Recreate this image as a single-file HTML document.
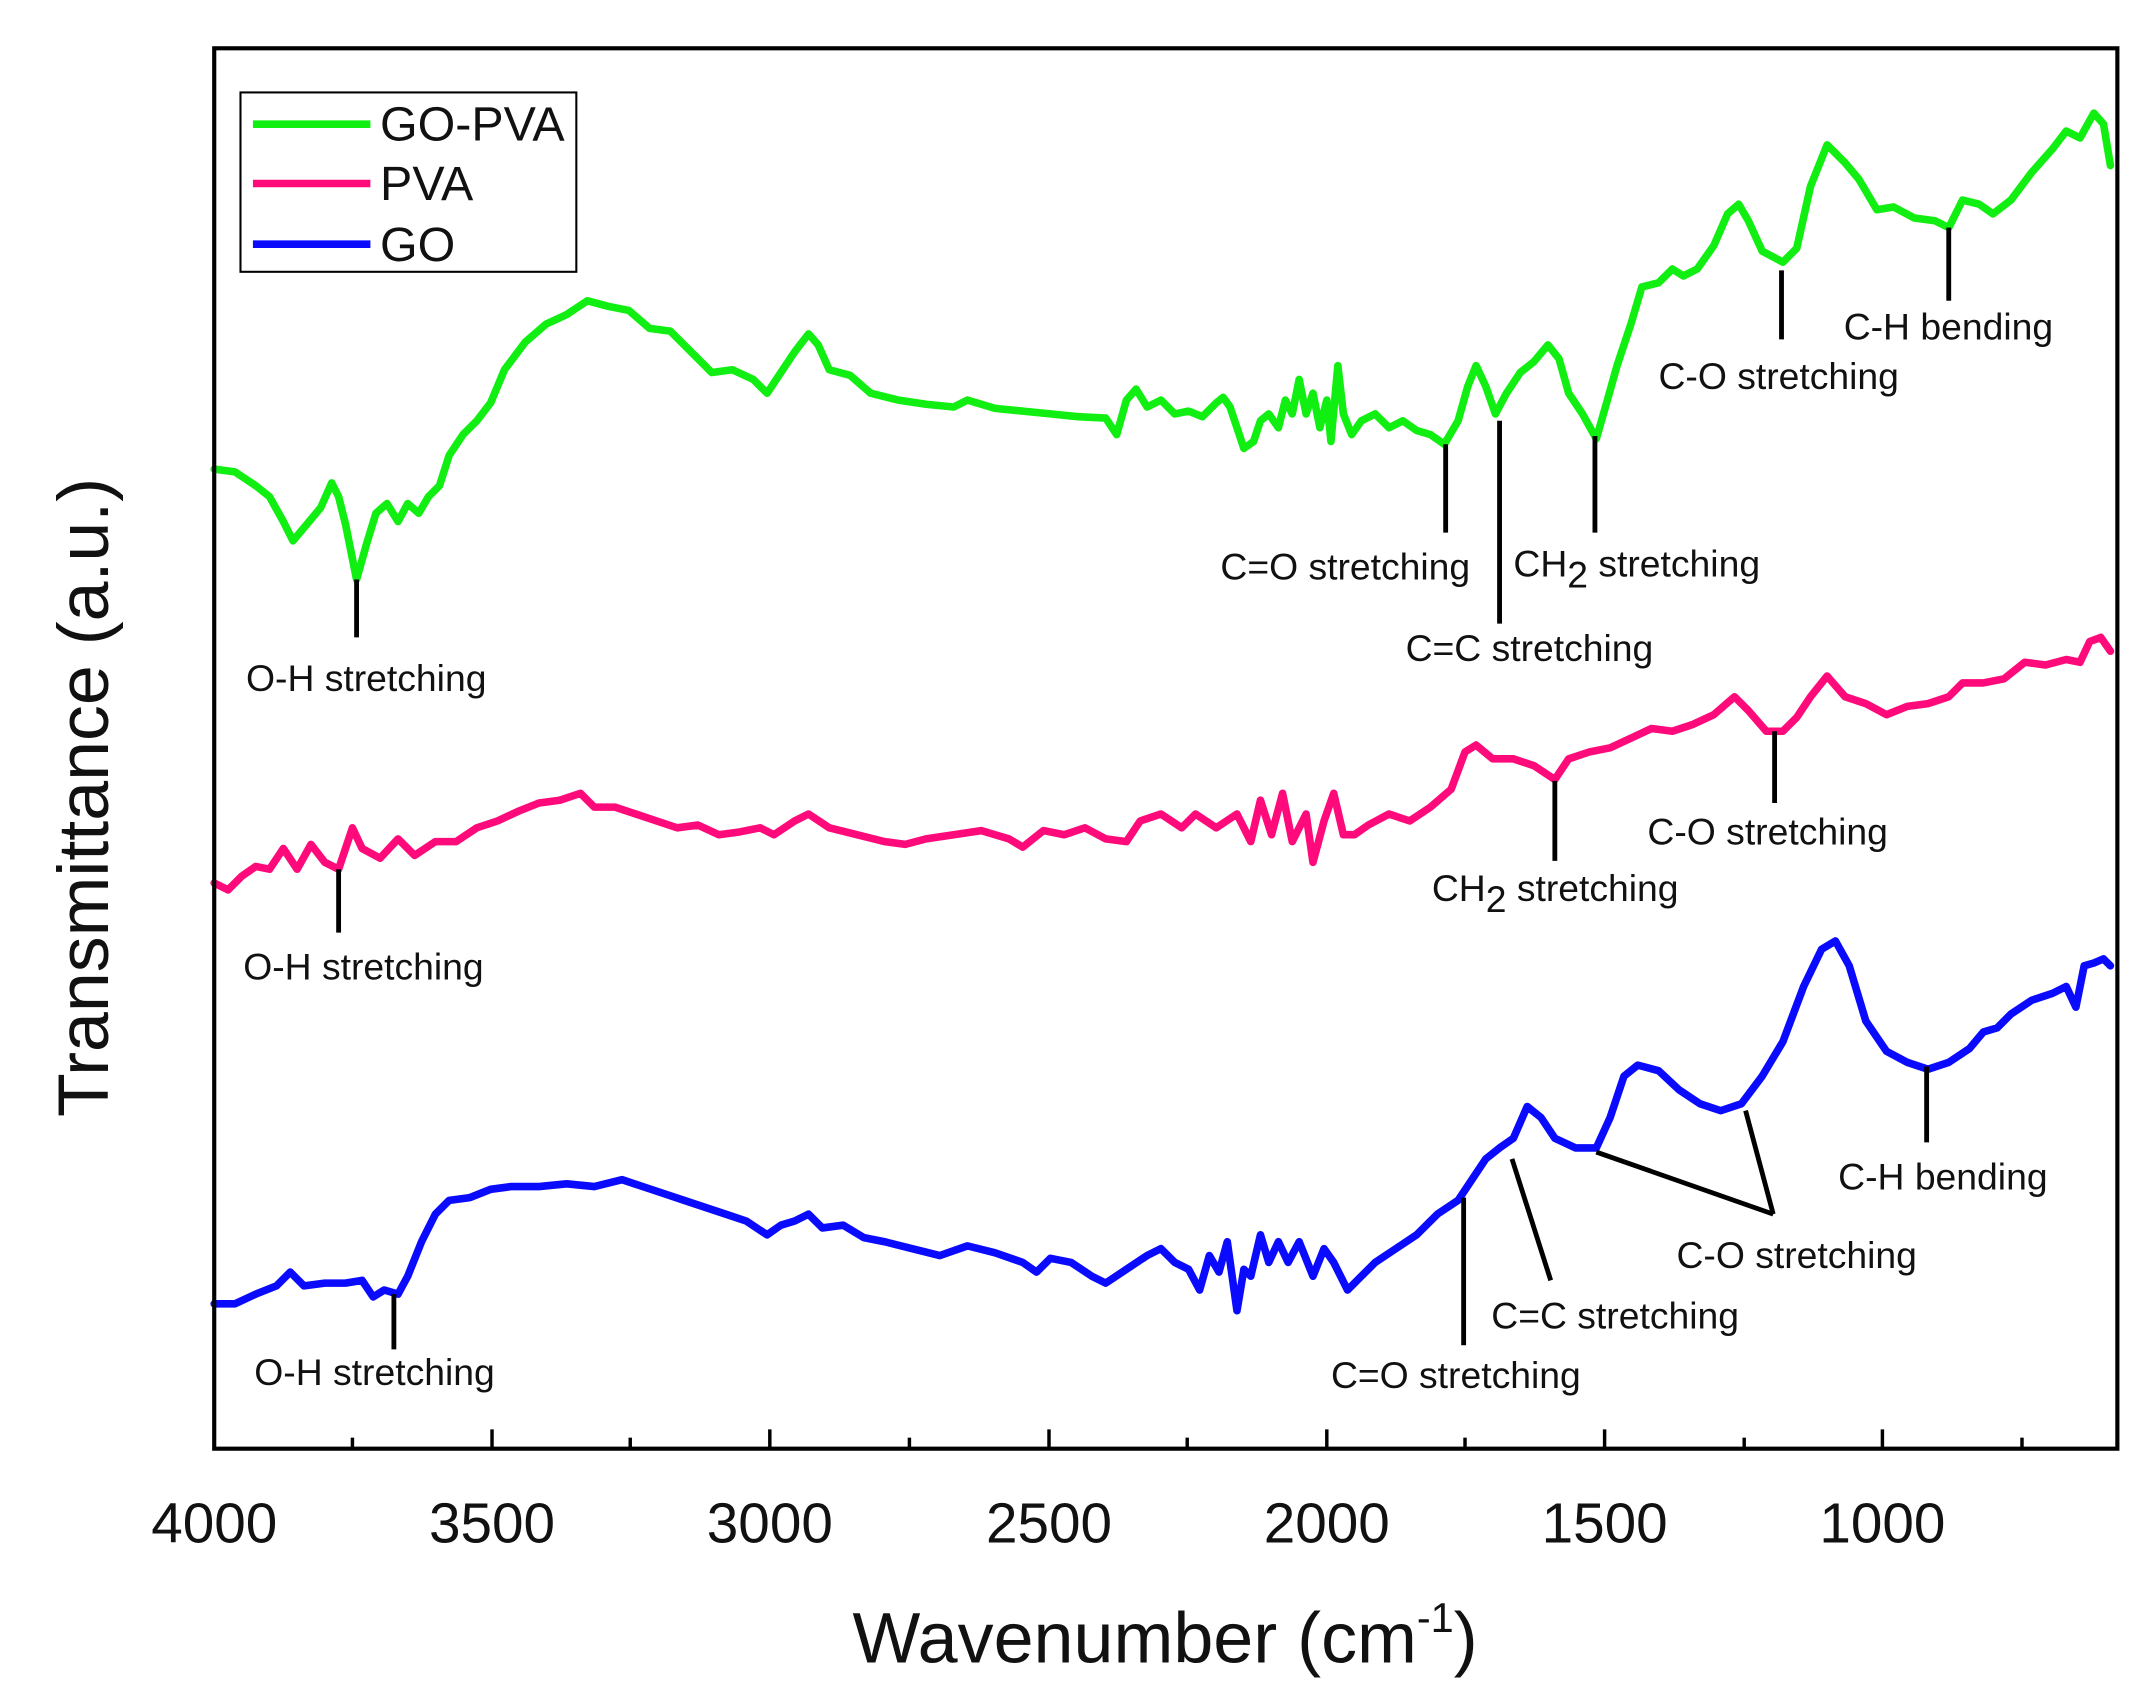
<!DOCTYPE html>
<html><head><meta charset="utf-8"><style>
html,body{margin:0;padding:0;background:#fff;}
svg{display:block;}
text{font-family:"Liberation Sans",Arial,sans-serif;fill:#111;}
.a{font-size:27px;}
</style></head><body>
<svg width="2145" height="1686" viewBox="0 0 1552 1222" preserveAspectRatio="none" xmlns="http://www.w3.org/2000/svg">
<rect x="0" y="0" width="1552" height="1222" fill="#fff"/>
<g fill="none" stroke-linejoin="round" stroke-linecap="round" stroke-width="5.5">
<polyline stroke="#11ee11" points="155,340 170,342 185,352 195,360 205,378 212,392 222,380 232,368 240,350 245,360 250,380 258,420 265,395 272,372 280,365 288,378 295,365 303,372 310,360 318,352 325,330 335,315 345,305 355,292 365,268 380,248 395,235 410,228 425,218 440,222 455,225 470,238 485,240 500,255 515,270 530,268 545,275 555,285 565,270 575,255 585,242 592,250 600,268 615,272 630,285 650,290 670,293 690,295 700,290 720,296 740,298 760,300 780,302 800,303 808,315 815,290 822,282 830,295 840,290 850,300 860,298 870,302 880,292 885,288 890,295 895,310 900,325 907,320 912,305 918,300 925,310 930,290 935,300 940,275 945,300 950,285 955,310 960,290 963,320 968,265 972,300 978,315 985,305 995,300 1005,310 1015,305 1025,312 1035,315 1045,322 1055,305 1062,280 1068,265 1075,280 1082,300 1090,285 1100,270 1110,262 1120,250 1128,260 1135,285 1145,300 1155,318 1163,290 1170,265 1180,235 1188,208 1200,205 1210,195 1218,200 1228,195 1240,178 1250,155 1258,148 1265,160 1275,182 1290,190 1300,180 1310,135 1322,105 1335,118 1345,130 1358,152 1370,150 1385,158 1400,160 1410,165 1420,145 1432,148 1442,155 1455,145 1470,125 1485,108 1495,95 1505,100 1515,82 1522,90 1527,120"/>
<polyline stroke="#ff0a7a" points="155,640 165,645 175,635 185,628 195,630 205,615 215,630 225,612 235,625 245,630 255,600 262,615 275,622 288,608 300,620 315,610 330,610 345,600 360,595 375,588 390,582 405,580 420,575 430,585 445,585 460,590 475,595 490,600 505,598 520,605 535,603 550,600 560,605 575,595 585,590 600,600 620,605 640,610 655,612 670,608 690,605 710,602 730,608 740,614 755,602 770,605 785,600 800,608 815,610 825,595 840,590 855,600 865,590 880,600 895,590 905,610 912,580 920,605 928,575 935,610 945,590 950,625 958,595 965,575 972,605 980,605 990,598 1005,590 1020,595 1035,585 1050,572 1060,545 1068,540 1080,550 1095,550 1110,555 1125,565 1135,550 1150,545 1165,542 1180,535 1195,528 1210,530 1225,525 1240,518 1255,505 1265,515 1278,530 1290,530 1300,520 1310,505 1322,490 1335,505 1350,510 1365,518 1380,512 1395,510 1410,505 1420,495 1435,495 1450,492 1465,480 1480,482 1495,478 1505,480 1512,465 1520,462 1527,472"/>
<polyline stroke="#0a0aff" points="155,945 170,945 185,938 200,932 210,922 220,932 235,930 250,930 262,928 270,940 278,935 288,938 295,925 305,900 315,880 325,870 340,868 355,862 370,860 390,860 410,858 430,860 450,855 465,860 480,865 495,870 510,875 525,880 540,885 555,895 565,888 575,885 585,880 595,890 610,888 625,897 640,900 660,905 680,910 700,903 720,908 740,915 750,922 760,912 775,915 790,925 800,930 815,920 830,910 840,905 850,915 860,920 868,935 875,910 882,922 888,900 895,950 900,920 905,925 912,895 918,915 925,900 932,915 940,900 950,925 958,905 965,915 975,935 985,925 995,915 1010,905 1025,895 1040,880 1055,870 1065,855 1075,840 1085,832 1095,825 1105,802 1115,810 1125,825 1140,832 1155,832 1165,810 1175,780 1185,772 1200,776 1215,790 1230,800 1245,805 1260,800 1275,780 1290,755 1305,715 1318,688 1328,682 1338,700 1350,740 1365,762 1380,770 1395,775 1410,770 1425,760 1435,748 1445,745 1455,735 1470,725 1485,720 1495,715 1502,730 1508,700 1515,698 1522,695 1527,700"/>
</g>
<g stroke="#000" stroke-width="3.5">
<line x1="258" y1="420" x2="258" y2="462"/>
<line x1="1046" y1="322" x2="1046" y2="386"/>
<line x1="1154" y1="316" x2="1154" y2="386"/>
<line x1="1085" y1="305" x2="1085" y2="452"/>
<line x1="1289" y1="196" x2="1289" y2="246"/>
<line x1="1410" y1="165" x2="1410" y2="218"/>
<line x1="245" y1="630" x2="245" y2="676"/>
<line x1="1125" y1="566" x2="1125" y2="624"/>
<line x1="1284" y1="530" x2="1284" y2="582"/>
<line x1="285" y1="938" x2="285" y2="978"/>
<line x1="1059" y1="868" x2="1059" y2="975"/>
<line x1="1094" y1="840" x2="1122" y2="928"/>
<line x1="1155" y1="835" x2="1283" y2="880"/>
<line x1="1263" y1="805" x2="1283" y2="880"/>
<line x1="1394" y1="773" x2="1394" y2="828"/>
</g>
<g>
<text class="a" x="178" y="501">O-H stretching</text>
<text class="a" x="883" y="420">C=O stretching</text>
<text class="a" x="1095" y="418">CH<tspan dy="8">2</tspan><tspan dy="-8"> stretching</tspan></text>
<text class="a" x="1017" y="479">C=C stretching</text>
<text class="a" x="1200" y="282">C-O stretching</text>
<text class="a" x="1334" y="246">C-H bending</text>
<text class="a" x="176" y="710">O-H stretching</text>
<text class="a" x="1036" y="653">CH<tspan dy="8">2</tspan><tspan dy="-8"> stretching</tspan></text>
<text class="a" x="1192" y="612">C-O stretching</text>
<text class="a" x="184" y="1004">O-H stretching</text>
<text class="a" x="963" y="1006">C=O stretching</text>
<text class="a" x="1079" y="963">C=C stretching</text>
<text class="a" x="1213" y="919">C-O stretching</text>
<text class="a" x="1330" y="862">C-H bending</text>
</g>
<rect x="174" y="67" width="243" height="130" fill="none" stroke="#000" stroke-width="1.5"/>
<g stroke-width="5.5">
<line x1="183" y1="90" x2="268" y2="90" stroke="#11ee11"/>
<line x1="183" y1="133" x2="268" y2="133" stroke="#ff0a7a"/>
<line x1="183" y1="177" x2="268" y2="177" stroke="#0a0aff"/>
</g>
<text x="275" y="102" font-size="35">GO-PVA</text>
<text x="275" y="145" font-size="35">PVA</text>
<text x="275" y="189" font-size="35">GO</text>
<rect x="155" y="35" width="1377" height="1015" fill="none" stroke="#000" stroke-width="3"/>
<g stroke="#000" stroke-width="2.5">
<line x1="356" y1="1050" x2="356" y2="1036"/><line x1="557" y1="1050" x2="557" y2="1036"/>
<line x1="759" y1="1050" x2="759" y2="1036"/><line x1="960" y1="1050" x2="960" y2="1036"/>
<line x1="1161" y1="1050" x2="1161" y2="1036"/><line x1="1362" y1="1050" x2="1362" y2="1036"/>
<line x1="255" y1="1050" x2="255" y2="1042"/><line x1="456" y1="1050" x2="456" y2="1042"/>
<line x1="658" y1="1050" x2="658" y2="1042"/><line x1="859" y1="1050" x2="859" y2="1042"/>
<line x1="1060" y1="1050" x2="1060" y2="1042"/><line x1="1262" y1="1050" x2="1262" y2="1042"/>
<line x1="1463" y1="1050" x2="1463" y2="1042"/>
</g>
<g font-size="41" text-anchor="middle">
<text x="155" y="1118">4000</text><text x="356" y="1118">3500</text><text x="557" y="1118">3000</text>
<text x="759" y="1118">2500</text><text x="960" y="1118">2000</text><text x="1161" y="1118">1500</text><text x="1362" y="1118">1000</text>
</g>
<text x="843" y="1205" font-size="52" text-anchor="middle">Wavenumber (cm<tspan font-size="30" dy="-22">-1</tspan><tspan dy="22">)</tspan></text>
<text transform="translate(78,578) rotate(-90)" font-size="52" text-anchor="middle">Transmittance (a.u.)</text>
</svg>
</body></html>
